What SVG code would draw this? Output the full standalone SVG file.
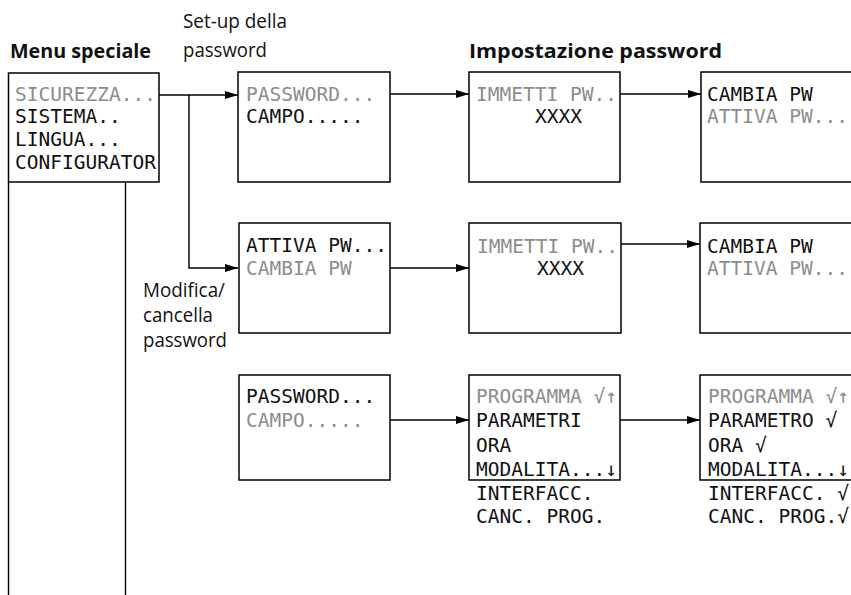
<svg xmlns="http://www.w3.org/2000/svg" width="851" height="595" viewBox="0 0 851 595">
<style>
.box{fill:#fff;stroke:#000;stroke-width:1.5}
.lcd{font-family:"DejaVu Sans Mono","Liberation Mono",monospace;font-size:19.5px;fill:#111}
.g{fill:#8c8c8c}
.lbl{font-family:"Open Sans","Noto Sans",sans-serif;font-size:19.5px;fill:#111}
.b{font-weight:bold}
.con{fill:none;stroke:#000;stroke-width:1.4}
</style>
<defs>
<marker id="ah" markerUnits="userSpaceOnUse" markerWidth="14" markerHeight="10" refX="13" refY="5" orient="auto">
<path d="M0,1 L13,5 L0,9 Z" fill="#000"/>
</marker>
</defs>
<g id="labels">
<text class="lbl b" x="10" y="58" textLength="141" lengthAdjust="spacingAndGlyphs">Menu speciale</text>
<text class="lbl" x="183" y="28" textLength="104" lengthAdjust="spacingAndGlyphs">Set-up della</text>
<text class="lbl" x="183" y="57" textLength="84" lengthAdjust="spacingAndGlyphs">password</text>
<text class="lbl b" x="469" y="58" textLength="253" lengthAdjust="spacingAndGlyphs">Impostazione password</text>
<text class="lbl" x="143" y="297" textLength="82" lengthAdjust="spacingAndGlyphs">Modifica/</text>
<text class="lbl" x="143" y="322" textLength="70" lengthAdjust="spacingAndGlyphs">cancella</text>
<text class="lbl" x="143" y="347" textLength="84" lengthAdjust="spacingAndGlyphs">password</text>
</g>
<g id="connectors">
<line class="con" x1="8.5" y1="182" x2="8.5" y2="595"/>
<line class="con" x1="125.5" y1="182" x2="125.5" y2="595"/>
<path class="con" d="M159,95 H238" marker-end="url(#ah)"/>
<path class="con" d="M189,95 V268 H238" marker-end="url(#ah)"/>
<path class="con" d="M390,94 H469" marker-end="url(#ah)"/>
<path class="con" d="M620,94 H701" marker-end="url(#ah)"/>
<path class="con" d="M390,268 H469" marker-end="url(#ah)"/>
<path class="con" d="M621,244 H700" marker-end="url(#ah)"/>
<path class="con" d="M390,420 H469" marker-end="url(#ah)"/>
<path class="con" d="M620,420 H700" marker-end="url(#ah)"/>
</g>
<g id="menu-speciale">
<rect class="box" x="8.5" y="73" width="150.5" height="109"/>
<text class="lcd g" x="15" y="101">SICUREZZA...</text>
<text class="lcd" x="15" y="123">SISTEMA..</text>
<text class="lcd" x="15" y="146">LINGUA...</text>
<text class="lcd" x="15" y="169">CONFIGURATOR</text>
</g>
<g id="password-campo-1">
<rect class="box" x="238" y="72" width="152" height="110"/>
<text class="lcd g" x="246" y="101">PASSWORD...</text>
<text class="lcd" x="246" y="123">CAMPO.....</text>
</g>
<g id="immetti-1">
<rect class="box" x="469" y="72" width="151" height="110"/>
<text class="lcd g" x="476" y="101">IMMETTI PW..</text>
<text class="lcd" x="535" y="123">XXXX</text>
</g>
<g id="cambia-1">
<path class="box" d="M851,72 H701 V182 H851"/>
<text class="lcd" x="707" y="101">CAMBIA PW</text>
<text class="lcd g" x="707" y="123">ATTIVA PW...</text>
</g>
<g id="attiva-pw">
<rect class="box" x="239" y="223" width="151" height="110"/>
<text class="lcd" x="246" y="252">ATTIVA PW...</text>
<text class="lcd g" x="246" y="275">CAMBIA PW</text>
</g>
<g id="immetti-2">
<rect class="box" x="469" y="223" width="152" height="110"/>
<text class="lcd g" x="477" y="253">IMMETTI PW..</text>
<text class="lcd" x="537" y="275">XXXX</text>
</g>
<g id="cambia-2">
<path class="box" d="M851,223 H700 V333 H851"/>
<text class="lcd" x="707" y="253">CAMBIA PW</text>
<text class="lcd g" x="707" y="275">ATTIVA PW...</text>
</g>
<g id="password-campo-2">
<rect class="box" x="239" y="375" width="151" height="105"/>
<text class="lcd" x="246" y="403">PASSWORD...</text>
<text class="lcd g" x="246" y="427">CAMPO.....</text>
</g>
<g id="programma-1">
<rect class="box" x="469" y="375" width="151" height="105"/>
<text class="lcd g" x="476" y="403">PROGRAMMA √↑</text>
<text class="lcd" x="476" y="427">PARAMETRI</text>
<text class="lcd" x="476" y="452">ORA</text>
<text class="lcd" x="476" y="476">MODALITA...↓</text>
<text class="lcd" x="476" y="500">INTERFACC.</text>
<text class="lcd" x="476" y="523">CANC. PROG.</text>
</g>
<g id="programma-2">
<path class="box" d="M851,375 H700 V480 H851"/>
<text class="lcd g" x="708" y="403">PROGRAMMA √↑</text>
<text class="lcd" x="708" y="427">PARAMETRO √</text>
<text class="lcd" x="708" y="452">ORA √</text>
<text class="lcd" x="708" y="476">MODALITA...↓</text>
<text class="lcd" x="708" y="500">INTERFACC. √</text>
<text class="lcd" x="708" y="523">CANC. PROG.√</text>
</g>
</svg>
